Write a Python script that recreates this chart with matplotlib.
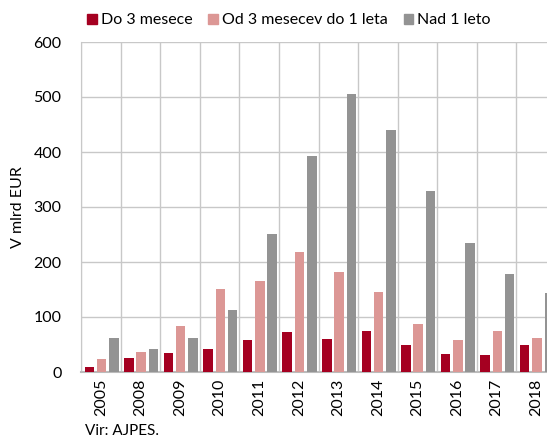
import numpy as np
import matplotlib.pyplot as plt
from matplotlib.patches import Patch

plt.rcParams['font.family'] = ['Lato', 'DejaVu Sans']

# === Data ===
years = ["2005", "2008", "2009", "2010", "2011", "2012", "2013",
         "2014", "2015", "2016", "2017", "2018"]
do_3_mesece = [10, 26, 35, 41, 58, 72, 60, 75, 49, 33, 31, 49]
od_3_do_1 = [24, 36, 84, 151, 165, 218, 182, 145, 88, 58, 74, 62]
nad_1_leto = [62, 42, 61, 112, 251, 393, 505, 440, 329, 235, 178, 143]
series_names = ["Do 3 mesece", "Od 3 mesecev do 1 leta", "Nad 1 leto"]

colors = ["#A50021", "#DC9795", "#939393"]
grid_col = "#C8C8C8"
fs = 11.5

fig = plt.figure(figsize=(5.47, 4.38), dpi=100)
# axes run past the right edge, like the cropped original
ax = fig.add_axes([81 / 547, 66 / 438, 475 / 547, 330 / 438])

x = np.arange(len(years))
w = 0.24
off = 0.31
for i, (vals, col) in enumerate(zip([do_3_mesece, od_3_do_1, nad_1_leto], colors)):
    ax.bar(x + (i - 1) * off + 0.02, vals, width=w, color=col, zorder=3)

ax.set_xlim(-0.5, len(years) - 0.5)
ax.set_ylim(0, 600)
ax.set_yticks(range(0, 601, 100))
ax.set_xticks(x)
ax.set_xticklabels(years, rotation=90, fontsize=fs)
ax.tick_params(axis='y', labelsize=fs, length=0, pad=14)
ax.tick_params(axis='x', length=0, pad=5)

# grid: horizontal lines plus category separators
ax.grid(axis='y', color=grid_col, linewidth=1, zorder=0)
for b in np.arange(-0.5, len(years) + 0.5, 1):
    ax.axvline(b, color=grid_col, linewidth=1, zorder=0)

for s in ["top", "right"]:
    ax.spines[s].set_visible(False)
ax.spines["left"].set_color(grid_col)
ax.spines["bottom"].set_color("#BBBBBB")
ax.spines["bottom"].set_linewidth(1.5)

ax.set_ylabel("V mlrd EUR", fontsize=fs, labelpad=6)

handles = [Patch(color=c, label=n) for c, n in zip(colors, series_names)]
fig.legend(handles=handles, loc="upper left", bbox_to_anchor=(76 / 547, 0.995),
           ncol=3, frameon=False, fontsize=fs, handlelength=0.6,
           handleheight=0.6, handletextpad=0.25, columnspacing=1.0,
           borderaxespad=0.3)

fig.text(85 / 547, 0, "Vir: AJPES.", fontsize=fs - 0.5, va="bottom")

fig.savefig("out.png", dpi=100)
